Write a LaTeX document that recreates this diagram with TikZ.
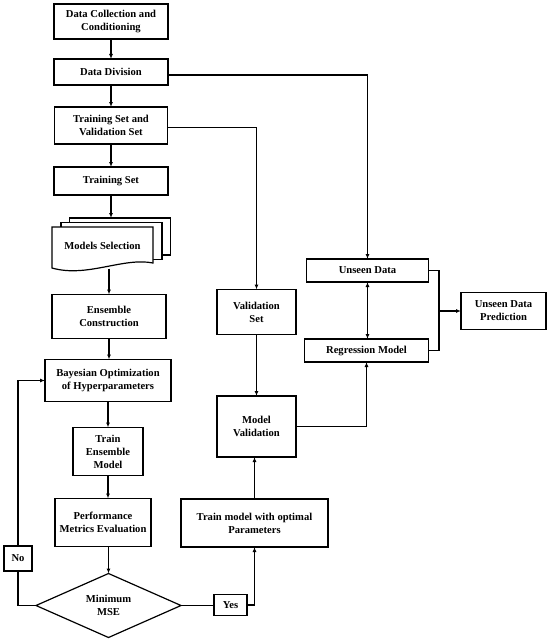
\documentclass[tikz,border=0pt]{standalone}
\usepackage{fontspec}
\setmainfont{Liberation Serif}
\usetikzlibrary{positioning,shapes.geometric,arrows.meta}

\tikzset{
  box/.style = {draw, line width=1.2pt, fill=white, align=center, inner sep=1pt, outer sep=0pt,
                font=\fontsize{10.6}{13}\selectfont\bfseries},
  page/.style = {draw, line width=1.2pt, fill=white, outer sep=0pt, minimum width=101pt, minimum height=37pt},
  decision/.style = {box, diamond, aspect=2.3, minimum width=145pt, minimum height=64pt, inner sep=0pt},
  line/.style = {line width=1.4pt},
  arr/.style = {line, -{Latex[length=5pt,width=4pt]}},
  biarr/.style = {line, {Latex[length=5pt,width=4pt]}-{Latex[length=5pt,width=4pt]}},
}

\begin{document}
\begin{tikzpicture}[x=1pt, y=-1pt, node distance=22pt]
  \useasboundingbox (0,0) rectangle (550,642);

  % main column
  \node[box, minimum width=114pt, minimum height=35pt] (dc) at (111,21.5) {Data Collection and\\Conditioning};
  \node[box, minimum width=114pt, minimum height=26pt] (dd) [below=20pt of dc] {Data Division};
  \node[box, minimum width=113pt, minimum height=37pt] (tv) [below=22pt of dd] {Training Set and\\Validation Set};
  \node[box, minimum width=114pt, minimum height=28pt] (ts) [below=23pt of tv] {Training Set};

  % stacked documents
  \node[page] (ms3) [below=23pt of ts, xshift=9pt] {};
  \node[page] (ms2) at ([shift={(-8.5pt,-4.5pt)}]ms3.center) {};
  \coordinate (msnw) at ([shift={(-9pt,-4.5pt)}]ms2.north west);
  \draw[line width=1.2pt, fill=white] (msnw) -- ++(101pt,0) -- ++(0,-36pt)
    .. controls +(-30pt,6pt) and +(35pt,-10pt) .. ++(-101pt,-5pt) -- cycle;
  \node[font=\fontsize{10.6}{13}\selectfont\bfseries, outer sep=0pt, minimum width=101pt, minimum height=46pt] (ms)
    at ([shift={(-9pt,-4.5pt)}]ms2.center) {Models Selection};

  \node[box, minimum width=114pt, minimum height=44pt] (ec) [below=26pt of ms, xshift=6.5pt] {Ensemble\\Construction};
  \node[box, minimum width=126pt, minimum height=42pt] (bo) [below=21pt of ec, xshift=-1pt] {Bayesian Optimization\\of Hyperparameters};
  \node[box, minimum width=70pt, minimum height=48pt] (te) [below=26pt of bo] {Train\\Ensemble\\Model};
  \node[box, minimum width=96pt, minimum height=48pt] (pm) [below=23pt of te, xshift=-5pt] {Performance\\Metrics Evaluation};
  \node[decision] (mse) [below=27pt of pm, xshift=5.5pt] {Minimum\\MSE};
  \node[box, minimum width=28pt, minimum height=25pt] (no) at (18,558.5) {No};
  \node[box, minimum width=33pt, minimum height=21pt] (yes) at (230.5,605) {Yes};

  % validation branch
  \node[box, minimum width=79pt, minimum height=45pt] (vs) at (256.5,312) {Validation\\Set};
  \node[box, minimum width=79pt, minimum height=61pt] (mv) at (256.5,426.5) {Model\\Validation};
  \node[box, minimum width=147pt, minimum height=48pt] (tmo) at (254.5,523) {Train model with optimal\\Parameters};

  % prediction branch
  \node[box, minimum width=122pt, minimum height=23pt] (ud) at (367.5,270.5) {Unseen Data};
  \node[box, minimum width=124pt, minimum height=23pt] (rm) at (366.5,350.5) {Regression Model};
  \node[box, minimum width=85pt, minimum height=37pt] (up) at (503.5,311) {Unseen Data\\Prediction};
  \coordinate (j) at (439,311);

  \draw[arr] (dc) -- (dd);
  \draw[arr] (dd) -- (tv);
  \draw[arr] (tv) -- (ts);
  \draw[arr] (ts) -- (ts |- ms3.north);
  \draw[arr] (ec.north |- ms.south) -- (ec.north);
  \draw[arr] (ec) -- (ec |- bo.north);
  \draw[arr] (bo) -- (bo |- te.north);
  \draw[arr] (te) -- (te |- pm.north);
  \draw[arr] (mse.north |- pm.south) -- (mse.north);
  \draw[line] (mse.west) -| (no.south);
  \draw[arr] (no.north) |- (bo.west);
  \draw[line] (mse.east) -- (mse.east -| yes.west);
  \draw[arr] (yes.east) -| (tmo.south);
  \draw[arr] (tmo) -- (tmo |- mv.south);
  \draw[arr] ([yshift=-2pt]tv.east) -| (vs.north);
  \draw[arr] (vs) -- (mv);
  \draw[arr] ([yshift=-3pt]dd.east) -| (ud.north);
  \draw[arr] (mv.east) -| (rm.south);
  \draw[biarr] (ud.south) -- (ud.south |- rm.north);
  \draw[line] (ud.east) -| (j);
  \draw[line] (rm.east) -| (j);
  \draw[arr] (j) -- (up.west);
\end{tikzpicture}
\end{document}
